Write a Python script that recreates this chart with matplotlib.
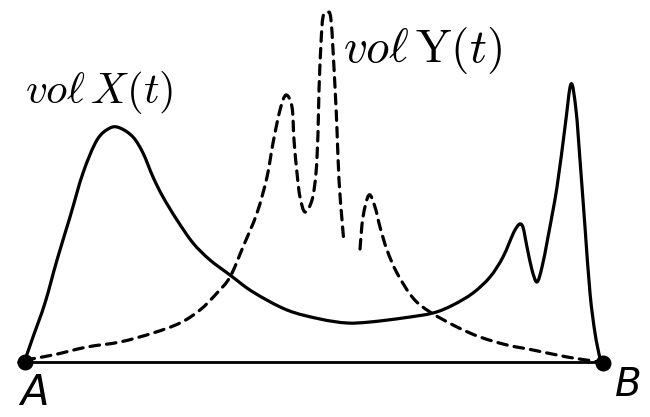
import numpy as np
import matplotlib
matplotlib.use("Agg")
import matplotlib.pyplot as plt
from matplotlib.path import Path
from matplotlib.patches import PathPatch

plt.rcParams['mathtext.fontset'] = 'cm'

# Points (pixel-like coordinates, y downwards)
solid_x = [25, 33, 45, 57, 70, 83, 97, 110, 120, 133, 143, 153, 163, 177, 193, 210, 230,
           253, 287, 320, 347, 370, 403, 433, 453, 473, 490, 503, 515, 522, 527, 532,
           537, 542, 548, 557, 565, 571, 576, 580, 585, 590, 595, 600, 603]
solid_y = [360, 337, 303, 260, 217, 173, 140, 128, 128, 137, 153, 177, 197, 220, 243, 260, 275,
           292, 310, 319, 323, 322, 318, 313, 305, 293, 277, 257, 230, 225, 247, 270,
           282, 267, 237, 187, 127, 84, 110, 160, 227, 293, 333, 358, 363]

dash1_x = [25, 53, 87, 120, 153, 180, 200, 217, 230, 243, 257, 267, 273, 280, 286, 292,
           294, 297, 300, 305, 312, 316, 318, 319, 321, 323, 327, 331, 335, 337, 339, 342, 344]
dash1_y = [360, 355, 347, 342, 333, 323, 310, 293, 277, 247, 213, 177, 143, 110, 95, 107,
           140, 173, 197, 212, 200, 173, 133, 90, 43, 17, 13, 20, 87, 130, 180, 220, 243]

dash2_x = [360, 363, 369, 375, 380, 387, 397, 413, 430, 457, 480, 507, 533, 567, 593, 603]
dash2_y = [249, 217, 195, 207, 227, 250, 273, 298, 312, 327, 337, 345, 350, 357, 361, 363]

base_x = [18, 603]
base_y = [362, 362]
point_names = ["A", "B"]
point_x = [25, 603]
point_y = [362, 363]
labels = [r"$vo\ell\,X(t)$", r"$vo\ell\,\mathrm{Y}(t)$"]


def smooth_path(xs, ys, tension=1.0 / 6.0):
    """Cubic Bezier path passing through the given points (Catmull-Rom style)."""
    p = np.column_stack([xs, ys]).astype(float)
    n = len(p)
    verts = [p[0]]
    codes = [Path.MOVETO]
    for i in range(n - 1):
        p0 = p[i - 1] if i > 0 else p[i]
        p1 = p[i]
        p2 = p[i + 1]
        p3 = p[i + 2] if i + 2 < n else p[i + 1]
        c1 = p1 + (p2 - p0) * tension
        c2 = p2 - (p3 - p1) * tension
        verts += [c1, c2, p2]
        codes += [Path.CURVE4] * 3
    return Path(verts, codes)


fig = plt.figure(figsize=(6.5, 4.17), dpi=100)
ax = fig.add_axes([0, 0, 1, 1])
ax.set_xlim(0, 650)
ax.set_ylim(417, 0)
ax.axis('off')

ax.plot(base_x, base_y, color='black', lw=2.0, solid_capstyle='round')
ax.add_patch(PathPatch(smooth_path(solid_x, solid_y), fill=False, edgecolor='black',
                       lw=2.3, joinstyle='round', capstyle='round'))
for xs, ys in [(dash1_x, dash1_y), (dash2_x, dash2_y)]:
    ax.add_patch(PathPatch(smooth_path(xs, ys), fill=False, edgecolor='black',
                           lw=2.3, linestyle=(0, (3.0, 2.2)), capstyle='round'))
ax.scatter(point_x, point_y, s=110, color='black', zorder=5)

ax.text(34, 405, point_names[0], fontsize=30, style='italic', ha='center',
        va='baseline', family='DejaVu Sans')
ax.text(628, 396, point_names[1], fontsize=28, style='italic', ha='center',
        va='baseline', family='DejaVu Sans')

ax.text(25, 103, labels[0], fontsize=31, ha='left', va='baseline')
ax.text(343, 62, labels[1], fontsize=34, ha='left', va='baseline')

fig.savefig("out.png", dpi=100)
